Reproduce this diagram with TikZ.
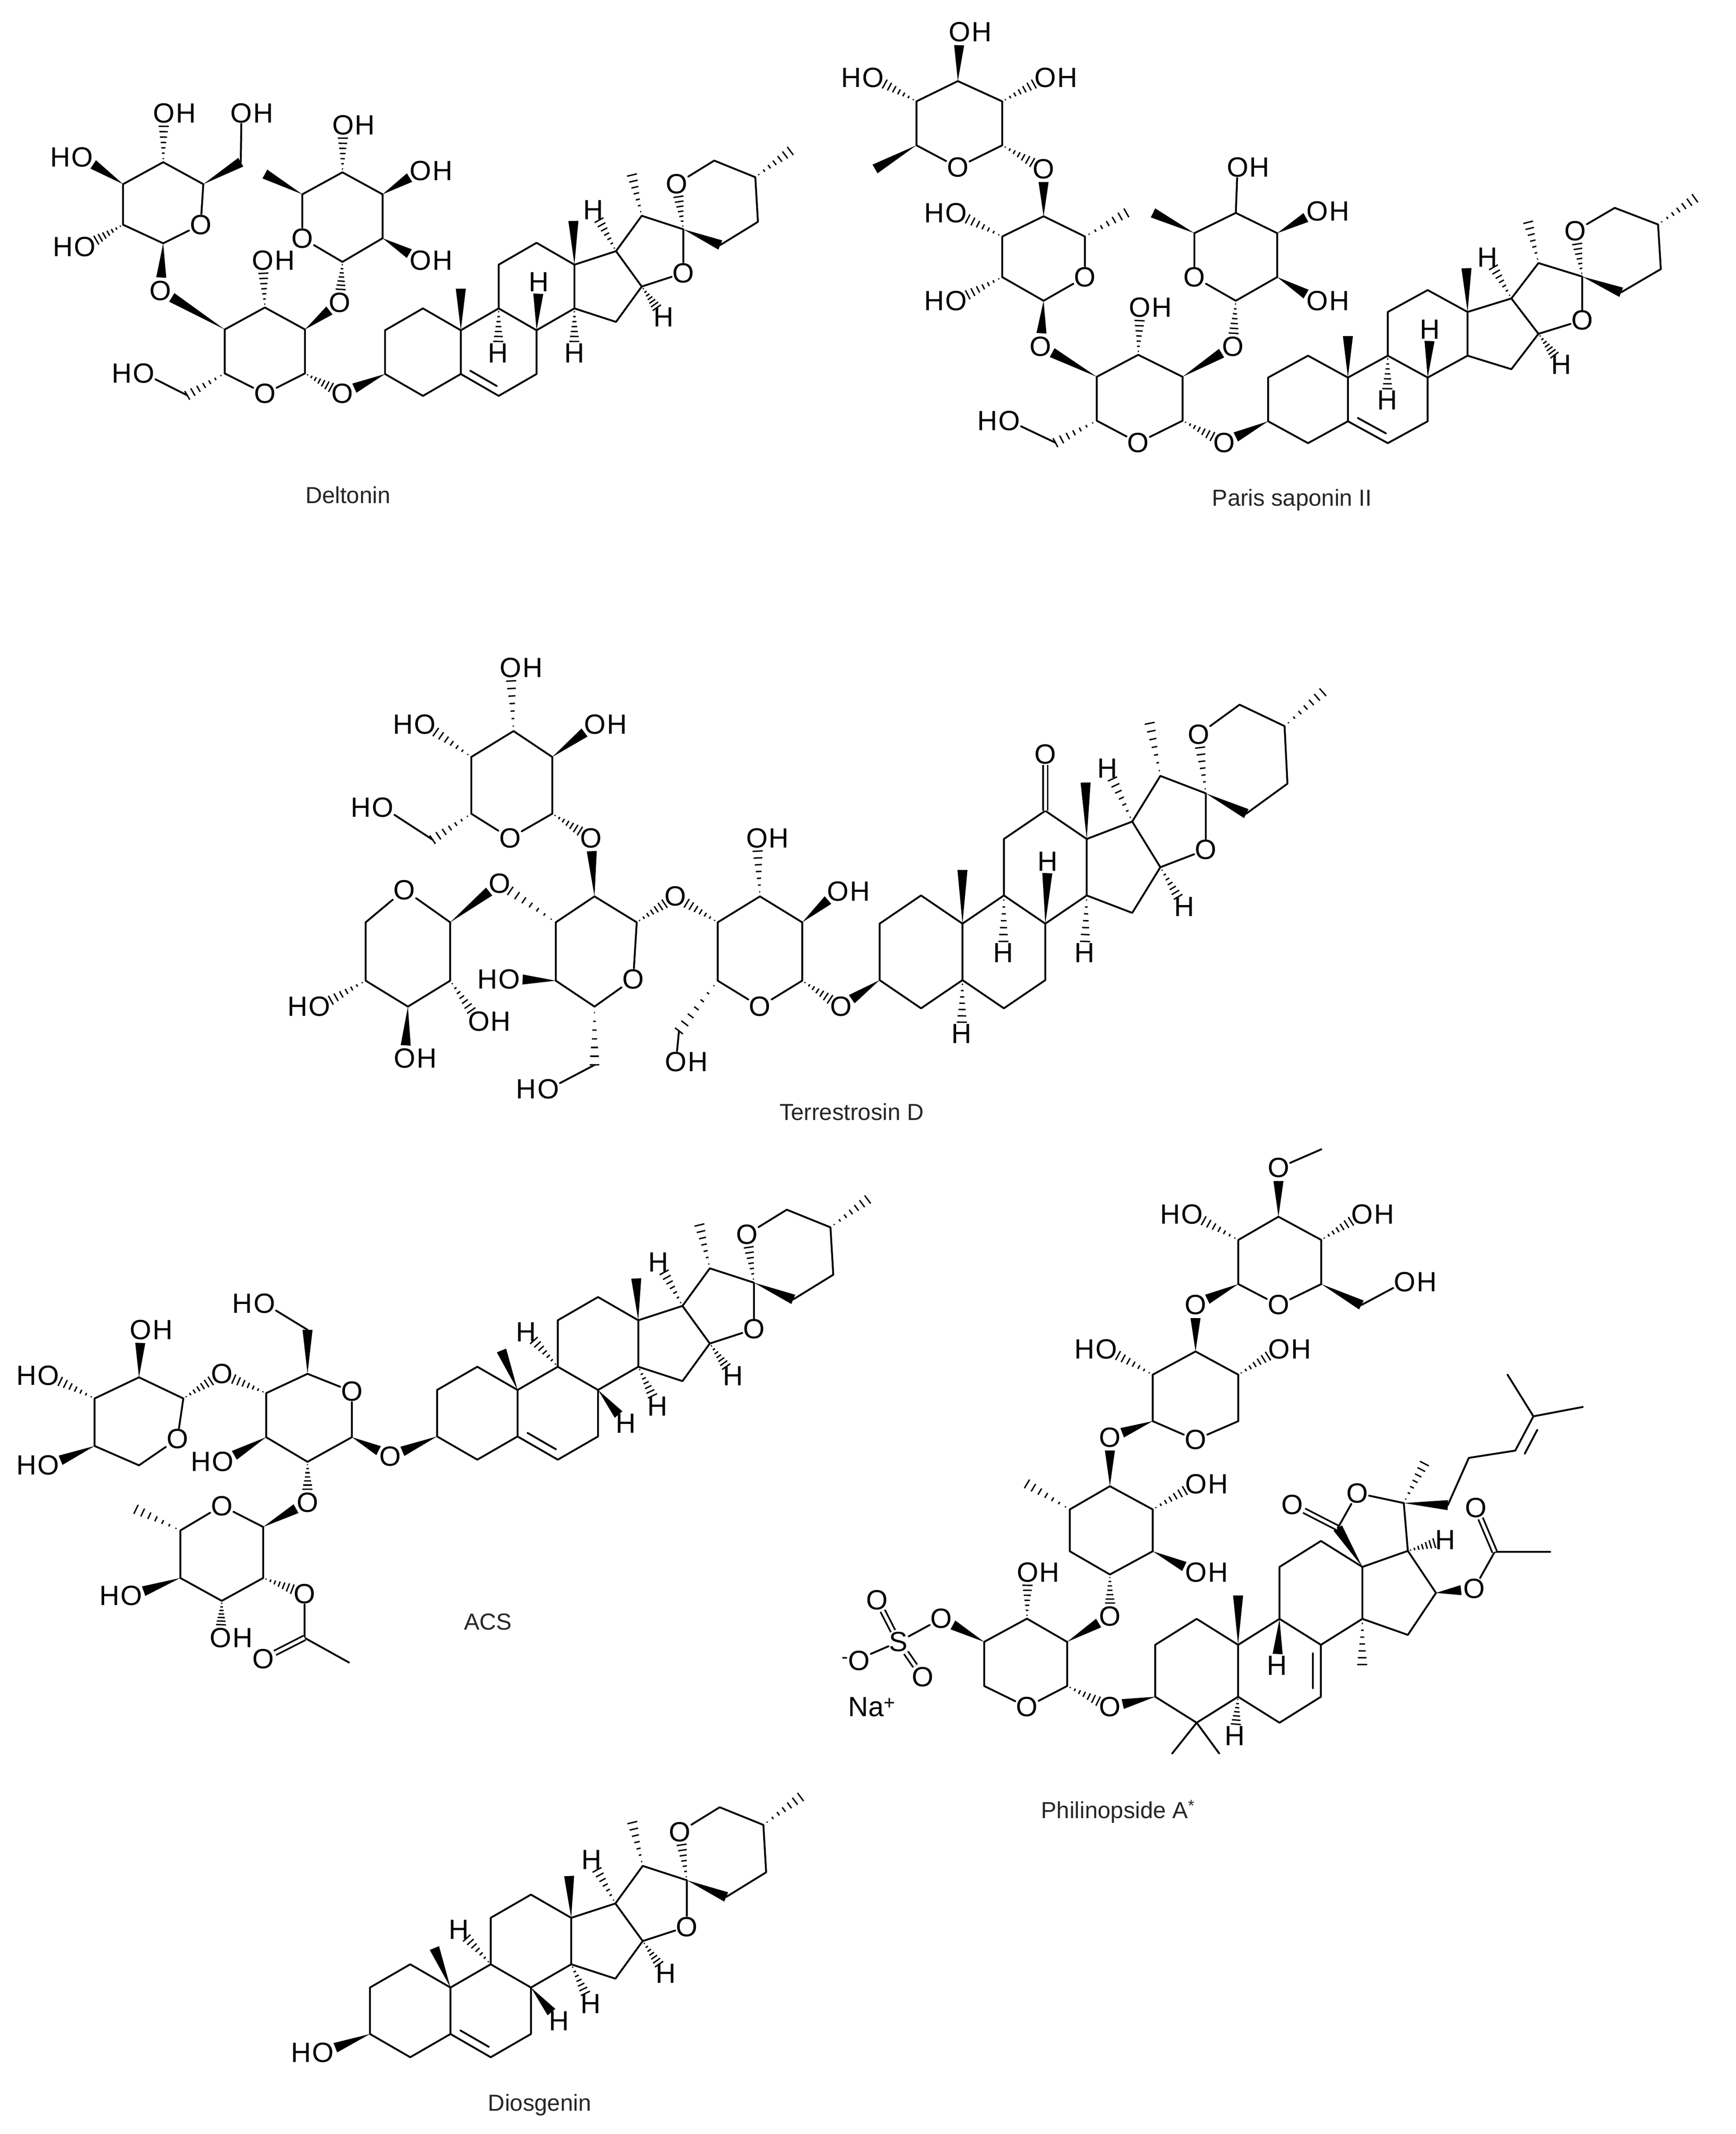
\documentclass[tikz,border=0pt]{standalone}
\usepackage{fontspec}
\setmainfont{Liberation Sans}
\usetikzlibrary{calc}
\tikzset{
 bond/.style={line width=2.4pt,line cap=round,line join=round},
 hashl/.style={line width=1.8pt},
 dbl/.style={line width=2.2pt,double,double distance=4pt},
 lab/.style={font=\fontsize{36}{40}\selectfont,inner sep=1pt},
 ttl/.style={font=\fontsize{30}{36}\selectfont,text=black!85},
}
\newcommand\lO[2]{\node[lab] (#1) at (#2) {O};}
\newcommand\lH[2]{\node[lab] (#1) at (#2) {H};}
\newcommand\lOH[2]{\node[lab,xshift=-13pt] (#1) at (#2) {O};\node[lab,inner sep=0pt,anchor=base west] (#1h) at (#1.base east) {H};}
\newcommand\lHO[2]{\node[lab,xshift=13pt] (#1) at (#2) {O};\node[lab,inner sep=0pt,anchor=base east] (#1h) at (#1.base west) {H};}
\newcommand\wdg[3][0pt]{\coordinate (wq) at ($(#3)!#1!(#2)$);\fill ($(wq)!6.5pt!90:(#2)$) -- (#2) -- ($(wq)!6.5pt!-90:(#2)$) -- cycle;}
\newcommand\hsh[3][0pt]{\coordinate (hq) at ($(#3)!#1!(#2)$);\foreach \t/\w in {0.1/0.7pt,0.25/1.7pt,0.4/2.7pt,0.55/3.6pt,0.7/4.6pt,0.85/5.6pt,1/6.5pt}{\draw[hashl] ($(#2)!\t!(hq)!\w!90:(#2)$) -- ($(#2)!\t!(hq)!\w!-90:(#2)$);}}
\newcommand\skel[1]{%
\coordinate (#1c1) at (0,1);\coordinate (#1c2) at (-0.866,0.5);\coordinate (#1c3) at (-0.866,-0.5);\coordinate (#1c4) at (0,-1);\coordinate (#1c5) at (0.866,-0.5);\coordinate (#1c10) at (0.866,0.5);
\coordinate (#1c6) at (1.732,-1);\coordinate (#1c7) at (2.598,-0.5);\coordinate (#1c8) at (2.598,0.5);\coordinate (#1c9) at (1.732,1);
\coordinate (#1c11) at (1.732,2);\coordinate (#1c12) at (2.598,2.5);\coordinate (#1c13) at (3.464,2);\coordinate (#1c14) at (3.464,1);
\coordinate (#1c15) at (4.415,0.691);\coordinate (#1c16) at (5.003,1.5);\coordinate (#1c17) at (4.415,2.309);
\draw[bond] (#1c1)--(#1c2)--(#1c3)--(#1c4)--(#1c5)--(#1c10)--cycle;
\draw[bond] (#1c5)--(#1c6)--(#1c7)--(#1c8)--(#1c9)--(#1c10);
\draw[bond] (#1c9)--(#1c11)--(#1c12)--(#1c13)--(#1c14)--(#1c8);
\draw[bond] (#1c14)--(#1c15)--(#1c16)--(#1c17)--(#1c13);}
\newcommand\dblfive{\draw[bond,shorten <=3pt,shorten >=3pt] (1.039,-0.4)--(1.732,-0.8);}
\newcommand\spiro[1]{%
\coordinate (#1c20) at (5.003,3.118);\coordinate (#1c22) at (5.954,2.809);
\lO{#1oe}{5.954,1.809}\lO{#1of}{5.8,3.85}
\coordinate (#1c26) at (6.66,4.38);\coordinate (#1c25) at (7.6,4.0);\coordinate (#1c24) at (7.66,2.98);\coordinate (#1c23) at (6.8,2.45);
\coordinate (#1c27) at (8.4,4.6);\coordinate (#1c21) at (4.78,4.05);
\draw[bond] (#1c17)--(#1c20)--(#1c22)--(#1oe)--(#1c16);
\hsh[17pt]{#1c22}{#1of}
\draw[bond] (#1of)--(#1c26)--(#1c25)--(#1c24)--(#1c23);
\wdg{#1c22}{#1c23}\hsh{#1c25}{#1c27}\hsh{#1c20}{#1c21}
\lH{#1h17}{3.9,3.25}\hsh[15pt]{#1c17}{#1h17}
\lH{#1h16}{5.5,0.8}\hsh[15pt]{#1c16}{#1h16}}
\newcommand\typeD[1]{%
\coordinate (#1c19) at (0.52,1.35);\wdg{#1c10}{#1c19}
\coordinate (#1c18) at (3.42,2.9);\wdg{#1c13}{#1c18}
\lH{#1h9}{1.05,1.75}\hsh[15pt]{#1c9}{#1h9}
\lH{#1h8}{3.2,-0.22}\wdg[15pt]{#1c8}{#1h8}
\lH{#1h14}{3.88,0.15}\hsh[15pt]{#1c14}{#1h14}}
\newcommand\typeP[1]{%
\coordinate (#1c19) at (0.866,1.45);\wdg{#1c10}{#1c19}
\coordinate (#1c18) at (3.44,3.0);\wdg{#1c13}{#1c18}
\lH{#1h9}{1.72,-0.02}\hsh[15pt]{#1c9}{#1h9}
\lH{#1h8}{2.65,1.6}\wdg[15pt]{#1c8}{#1h8}}
\begin{document}
\begin{tikzpicture}[x=0.0622cm,y=-0.0622cm]
\useasboundingbox (0,0) rectangle (1270.1,1561.7);
%%%%%%%%%%%%%%%% Deltonin
\begin{scope}[x={(0.02436cm,0)},y={(0,-0.01538cm)}]
\coordinate (dg1) at (570,1105);\coordinate (dg2) at (570,975);\coordinate (dg3) at (495,910);\coordinate (dg4) at (420,975);\coordinate (dg5) at (420,1105);\lO{dgO}{495,1165}
\draw[bond] (dg1)--(dg2)--(dg3)--(dg4)--(dg5)--(dgO)--(dg1);
\lO{dO1}{640,1165}\hsh[17pt]{dg1}{dO1}
\coordinate (dg6) at (350,1170);\hsh{dg5}{dg6}\lHO{dHO6}{250,1105}\draw[bond] (dg6)--(dHO6);
\lOH{dOH3}{510,770}\hsh[17pt]{dg3}{dOH3}
\lO{dO2}{635,895}\wdg[17pt]{dg2}{dO2}
\lO{dO4}{300,860}\wdg[17pt]{dg4}{dO4}
\coordinate (dr5) at (565,575);\coordinate (dr4) at (640,510);\coordinate (dr3) at (715,575);\coordinate (dr2) at (715,705);\coordinate (dr1) at (640,775);\lO{drO}{565,705}
\draw[bond] (dr5)--(dr4)--(dr3)--(dr2)--(dr1)--(drO)--(dr5);
\hsh[17pt]{dr1}{dO2}
\coordinate (dr6) at (495,515);\wdg{dr5}{dr6}
\lOH{drOH4}{660,370}\hsh[17pt]{dr4}{drOH4}
\lOH{drOH3}{805,505}\wdg[17pt]{dr3}{drOH3}
\lOH{drOH2}{805,770}\wdg[17pt]{dr2}{drOH2}
\coordinate (dt3) at (230,545);\coordinate (dt4) at (305,480);\coordinate (dt5) at (380,545);\lO{dtO}{375,665}\coordinate (dt1) at (305,720);\coordinate (dt2) at (230,665);
\draw[bond] (dt3)--(dt4)--(dt5)--(dtO)--(dt1)--(dt2)--(dt3);
\wdg[17pt]{dt1}{dO4}
\lHO{dtHO2}{140,730}\hsh[17pt]{dt2}{dtHO2}
\lHO{dtHO3}{135,465}\wdg[17pt]{dt3}{dtHO3}
\lOH{dtOH4}{325,335}\hsh[17pt]{dt4}{dtOH4}
\coordinate (dt6) at (450,480);\wdg{dt5}{dt6}\lOH{dtOH6}{470,335}\draw[bond] (dt6)--(dtOH6);
\end{scope}
\begin{scope}[shift={(309.5,257.7)},x={(1.9904cm,0)},y={(0,1.9904cm)}]
\skel{d}\dblfive\spiro{d}\typeP{d}
\lH{dh14}{3.46,-0.02}\hsh[15pt]{dc14}{dh14}
\wdg[17pt]{dc3}{dO1}
\end{scope}
\node[ttl] (tdel) at (254.6,362.3) {Deltonin};
%%%%%%%%%%%%%%%% Paris saponin II
\begin{scope}[shift={(594.9,0)},x={(0.02692cm,0)},y={(0,-0.01538cm)}]
\coordinate (pg4) at (480,1115);\coordinate (pg3) at (550,1050);\coordinate (pg2) at (625,1115);\coordinate (pg1) at (625,1245);\lO{pgO}{550,1310}\coordinate (pg5) at (480,1245);
\draw[bond] (pg4)--(pg3)--(pg2)--(pg1)--(pgO)--(pg5)--(pg4);
\lO{pO1}{695,1310}\hsh[17pt]{pg1}{pO1}
\coordinate (pg6) at (410,1310);\hsh{pg5}{pg6}\lHO{pHO6}{315,1245}\draw[bond] (pg6)--(pHO6);
\lOH{pOH3}{570,910}\hsh[17pt]{pg3}{pOH3}
\lO{pO2}{710,1025}\wdg[17pt]{pg2}{pO2}
\lO{pO4}{385,1025}\wdg[17pt]{pg4}{pO4}
\coordinate (pr5) at (645,690);\coordinate (pr4) at (715,630);\coordinate (pr3) at (785,690);\coordinate (pr2) at (785,820);\coordinate (pr1) at (715,890);\lO{prO}{645,820}
\draw[bond] (pr5)--(pr4)--(pr3)--(pr2)--(pr1)--(prO)--(pr5);
\hsh[17pt]{pr1}{pO2}
\coordinate (pr6) at (575,630);\wdg{pr5}{pr6}
\lOH{prOH4}{735,495}\draw[bond] (pr4)--(prOH4);
\lOH{prOH3}{870,625}\wdg[17pt]{pr3}{prOH3}
\lOH{prOH2}{870,890}\wdg[17pt]{pr2}{prOH2}
\coordinate (pm4) at (390,640);\coordinate (pm5) at (460,700);\lO{pmO}{460,820}\coordinate (pm1) at (390,890);\coordinate (pm2) at (320,820);\coordinate (pm3) at (320,700);
\draw[bond] (pm4)--(pm5)--(pmO)--(pm1)--(pm2)--(pm3)--(pm4);
\wdg[17pt]{pm1}{pO4}
\lHO{pmHO2}{225,890}\hsh[17pt]{pm2}{pmHO2}
\lHO{pmHO3}{225,630}\hsh[17pt]{pm3}{pmHO3}
\lO{pO4b}{390,500}\wdg[17pt]{pm4}{pO4b}
\coordinate (pm6) at (530,630);\hsh{pm5}{pm6}
\coordinate (pa4) at (175,300);\coordinate (pa3) at (245,240);\coordinate (pa2) at (320,300);\coordinate (pa1) at (320,430);\lO{paO}{245,495}\coordinate (pa5) at (175,430);
\draw[bond] (pa4)--(pa3)--(pa2)--(pa1)--(paO)--(pa5)--(pa4);
\hsh[17pt]{pa1}{pO4b}
\coordinate (pa6) at (105,500);\wdg{pa5}{pa6}
\lOH{paOH2}{410,230}\hsh[17pt]{pa2}{paOH2}
\lOH{paOH3}{265,95}\wdg[17pt]{pa3}{paOH3}
\lHO{paHO4}{85,230}\hsh[17pt]{pa4}{paHO4}
\end{scope}
\begin{scope}[shift={(957.2,292.3)},x={(2.0961cm,0)},y={(0,1.9904cm)}]
\skel{p}\dblfive\spiro{p}\typeP{p}
\wdg[17pt]{pc3}{pO1}
\end{scope}
\node[ttl] (tpar) at (945.5,366) {Paris saponin II};
%%%%%%%%%%%%%%%% Terrestrosin D
\begin{scope}[shift={(192.9,466.2)},x={(0.03205cm,0)},y={(0,-0.01475cm)}]
\coordinate (ti4) at (645,880);\coordinate (ti3) at (705,800);\coordinate (ti2) at (765,880);\coordinate (ti1) at (765,1060);\lO{tiO}{705,1140}\coordinate (ti5) at (645,1060);
\draw[bond] (ti4)--(ti3)--(ti2)--(ti1)--(tiO)--(ti5)--(ti4);
\lO{tO1}{820,1140}\hsh[17pt]{ti1}{tO1}
\coordinate (ti6) at (590,1215);\hsh{ti5}{ti6}\lOH{tiOH6}{600,1310}\draw[bond] (ti6)--(tiOH6);
\lOH{tiOH3}{715,620}\hsh[17pt]{ti3}{tiOH3}
\lOH{tiOH2}{830,785}\wdg[17pt]{ti2}{tiOH2}
\lO{tO4}{585,800}\hsh[17pt]{ti4}{tO4}
\coordinate (tmA) at (415,880);\coordinate (tmB) at (470,800);\coordinate (tmC) at (530,880);\lO{tmO}{525,1055}\coordinate (tmE) at (470,1140);\coordinate (tmF) at (415,1060);
\draw[bond] (tmA)--(tmB)--(tmC)--(tmO)--(tmE)--(tmF)--(tmA);
\hsh[17pt]{tmC}{tO4}
\lO{tO2}{465,620}\wdg[17pt]{tmB}{tO2}
\lO{tO3}{335,760}\hsh[17pt]{tmA}{tO3}
\lHO{tmHO4}{335,1055}\wdg[17pt]{tmF}{tmHO4}
\coordinate (tmG) at (470,1320);\hsh{tmE}{tmG}\lHO{tmHO6}{390,1395}\draw[bond] (tmG)--(tmHO6);
\coordinate (tu2) at (295,370);\coordinate (tu3) at (355,290);\coordinate (tu4) at (410,370);\coordinate (tu1) at (410,545);\lO{tuO}{350,620}\coordinate (tu5) at (295,545);
\draw[bond] (tu2)--(tu3)--(tu4)--(tu1)--(tuO)--(tu5)--(tu2);
\hsh[17pt]{tu1}{tO2}
\lHO{tuHO2}{215,270}\hsh[17pt]{tu2}{tuHO2}
\lOH{tuOH3}{365,95}\hsh[17pt]{tu3}{tuOH3}
\lOH{tuOH4}{485,270}\wdg[17pt]{tu4}{tuOH4}
\coordinate (tu6) at (240,625);\hsh{tu5}{tu6}\lHO{tuHO6}{155,525}\draw[bond] (tu6)--(tuHO6);
\lO{txO}{200,780}\coordinate (tx1) at (265,880);\coordinate (tx2) at (265,1060);\coordinate (tx3) at (205,1140);\coordinate (tx4) at (145,1060);\coordinate (tx5) at (145,880);
\draw[bond] (tx1)--(tx2)--(tx3)--(tx4)--(tx5)--(txO)--(tx1);
\wdg[17pt]{tx1}{tO3}
\lOH{txOH2}{320,1185}\hsh[17pt]{tx2}{txOH2}
\lOH{txOH3}{215,1300}\wdg[17pt]{tx3}{txOH3}
\lHO{txHO4}{65,1140}\hsh[17pt]{tx4}{txHO4}
\end{scope}
\begin{scope}[shift={(674,696.6)},x={(2.177cm,0)},y={(0,2.5689cm)}]
\skel{t}\spiro{t}\typeP{t}
\lH{th14}{3.42,-0.02}\hsh[15pt]{tc14}{th14}
\lH{th5}{0.85,-1.45}\hsh[15pt]{tc5}{th5}
\lO{to12}{2.598,3.5}\draw[dbl] (tc12)--(to12);
\wdg[17pt]{tc3}{tO1}
\end{scope}
\node[ttl] (tter) at (623.2,813.6) {Terrestrosin D};
%%%%%%%%%%%%%%%% ACS
\begin{scope}[shift={(0,852.1)},x={(0.02692cm,0)},y={(0,-0.01602cm)}]
\coordinate (ag5) at (520,595);\lO{agO}{595,645}\coordinate (ag1) at (595,775);\coordinate (ag2) at (520,845);\coordinate (ag3) at (450,775);\coordinate (ag4) at (450,650);
\draw[bond] (ag5)--(agO)--(ag1)--(ag2)--(ag3)--(ag4)--(ag5);
\lO{aO1}{660,830}\wdg[17pt]{ag1}{aO1}
\coordinate (ag6) at (520,470);\wdg{ag5}{ag6}\lHO{aHO6}{430,395}\draw[bond] (ag6)--(aHO6);
\lO{aO4}{375,595}\hsh[17pt]{ag4}{aO4}
\lHO{agHO3}{360,845}\wdg[17pt]{ag3}{agHO3}
\lO{aO2}{520,960}\hsh[17pt]{ag2}{aO2}
\coordinate (ax1) at (310,665);\lO{axO}{300,780}\coordinate (ax5) at (235,855);\coordinate (ax4) at (160,800);\coordinate (ax3) at (160,665);\coordinate (ax2) at (235,605);
\draw[bond] (ax1)--(axO)--(ax5)--(ax4)--(ax3)--(ax2)--(ax1);
\hsh[17pt]{ax1}{aO4}
\lOH{axOH2}{255,470}\wdg[17pt]{ax2}{axOH2}
\lHO{axHO3}{65,600}\hsh[17pt]{ax3}{axHO3}
\lHO{axHO4}{65,855}\wdg[17pt]{ax4}{axHO4}
\coordinate (ar1) at (445,1030);\lO{arO}{375,970}\coordinate (ar5) at (305,1040);\coordinate (ar4) at (305,1175);\coordinate (ar3) at (375,1240);\coordinate (ar2) at (445,1175);
\draw[bond] (ar1)--(arO)--(ar5)--(ar4)--(ar3)--(ar2)--(ar1);
\wdg[17pt]{ar1}{aO2}
\coordinate (ar6) at (230,980);\hsh{ar5}{ar6}
\lHO{arHO4}{205,1225}\wdg[17pt]{ar4}{arHO4}
\lOH{arOH3}{390,1345}\hsh[17pt]{ar3}{arOH3}
\lO{arO2}{515,1220}\hsh[17pt]{ar2}{arO2}
\coordinate (ac7) at (515,1345);\coordinate (acm) at (590,1415);\lO{arO8}{445,1405}
\draw[bond] (arO2)--(ac7)--(acm);\draw[dbl] (ac7)--(arO8);
\end{scope}
\begin{scope}[shift={(349.3,1034.2)},x={(2.1148cm,0)},y={(0,2.1148cm)}]
\skel{a}\dblfive\spiro{a}\typeD{a}
\wdg[17pt]{ac3}{aO1}
\end{scope}
\node[ttl] (tacs) at (357.1,1187) {ACS};
%%%%%%%%%%%%%%%% Philinopside A
\begin{scope}[shift={(594.9,836)},x={(0.02436cm,0)},y={(0,-0.02115cm)}]
\coordinate (fx1) at (475,1170);\lO{fxO}{400,1215}\coordinate (fx5) at (320,1170);\coordinate (fx4) at (320,1075);\coordinate (fx3) at (400,1025);\coordinate (fx2) at (475,1075);
\draw[bond] (fx1)--(fxO)--(fx5)--(fx4)--(fx3)--(fx2)--(fx1);
\lO{fO1}{555,1215}\hsh[17pt]{fx1}{fO1}
\lO{fO2}{555,1020}\wdg[17pt]{fx2}{fO2}
\lOH{fxOH3}{420,925}\hsh[17pt]{fx3}{fxOH3}
\lO{fO4}{240,1025}\wdg[17pt]{fx4}{fO4}
\node[lab] (fS) at (160,1075) {S};
\lO{fSO1}{120,985}\lO{fSO2}{205,1150}
\node[lab] (fSO3) at (80,1115) {\textsuperscript{-}O};
\draw[bond] (fO4)--(fS)--(fSO3);\draw[dbl] (fS)--(fSO1);\draw[dbl] (fS)--(fSO2);
\node[lab] (fNa) at (110,1215) {Na\textsuperscript{+}};
\coordinate (fq1) at (555,930);\coordinate (fq2) at (635,880);\coordinate (fq3) at (635,790);\coordinate (fq4) at (555,740);\coordinate (fq5) at (480,790);\coordinate (fq6) at (480,880);
\draw[bond] (fq1)--(fq2)--(fq3)--(fq4)--(fq5)--(fq6)--cycle;
\hsh[17pt]{fq1}{fO2}
\lOH{fqOH2}{735,925}\wdg[17pt]{fq2}{fqOH2}
\lOH{fqOH3}{735,735}\hsh[17pt]{fq3}{fqOH3}
\lO{fO5}{555,635}\wdg[17pt]{fq4}{fO5}
\coordinate (fq7) at (400,735);\hsh{fq5}{fq7}
\coordinate (fy1) at (635,600);\lO{fyO}{715,640}\coordinate (fy5) at (795,600);\coordinate (fy4) at (795,500);\coordinate (fy3) at (715,450);\coordinate (fy2) at (635,500);
\draw[bond] (fy1)--(fyO)--(fy5)--(fy4)--(fy3)--(fy2)--(fy1);
\wdg[17pt]{fy1}{fO5}
\lHO{fyHO2}{530,445}\hsh[17pt]{fy2}{fyHO2}
\lO{fO6}{715,350}\wdg[17pt]{fy3}{fO6}
\lOH{fyOH4}{890,445}\hsh[17pt]{fy4}{fyOH4}
\coordinate (fz1) at (795,305);\lO{fzO}{870,350}\coordinate (fz5) at (950,305);\coordinate (fz4) at (950,210);\coordinate (fz3) at (870,160);\coordinate (fz2) at (795,210);
\draw[bond] (fz1)--(fzO)--(fz5)--(fz4)--(fz3)--(fz2)--(fz1);
\wdg[17pt]{fz1}{fO6}
\lHO{fzHO2}{690,155}\hsh[17pt]{fz2}{fzHO2}
\lO{fzO3}{870,55}\wdg[17pt]{fz3}{fzO3}\coordinate (fzMe) at (950,15);\draw[bond] (fzO3)--(fzMe);
\lOH{fzOH4}{1045,155}\hsh[17pt]{fz4}{fzOH4}
\coordinate (fz6) at (1025,350);\wdg{fz5}{fz6}\lOH{fzOH6}{1125,300}\draw[bond] (fz6)--(fzOH6);
\end{scope}
\begin{scope}[shift={(875.7,1222.7)},x={(2.177cm,0)},y={(0,2.3636cm)}]
\skel{f}
\draw[bond,shorten <=3pt,shorten >=3pt] (2.43,-0.38)--(2.43,0.38);
\coordinate (fm4a) at (-0.51,-1.59);\coordinate (fm4b) at (0.47,-1.59);
\draw[bond] (fm4a)--(fc4)--(fm4b);
\lH{fh5}{0.8,-1.25}\hsh[15pt]{fc5}{fh5}
\coordinate (fc19) at (0.866,1.45);\wdg{fc10}{fc19}
\lH{fh9}{1.68,0.1}\wdg[15pt]{fc9}{fh9}
\coordinate (fc30) at (3.46,0.12);\hsh{fc14}{fc30}
\coordinate (fc18) at (2.95,2.75);\wdg{fc13}{fc18}
\lO{fo18}{2.0,3.2}\draw[dbl] (fc18)--(fo18);
\lO{fol}{3.36,3.42}\coordinate (fc20) at (4.33,3.23);
\draw[bond] (fc18)--(fol)--(fc20)--(fc17);
\lH{fh17}{5.2,2.52}\hsh[15pt]{fc17}{fh17}
\coordinate (fc21) at (4.76,3.99);\hsh{fc20}{fc21}
\coordinate (fs1) at (5.25,3.19);\coordinate (fs2) at (5.69,4.1);\coordinate (fs3) at (6.66,4.24);\coordinate (fs4) at (7.04,4.9);\coordinate (fs5) at (6.5,5.7);\coordinate (fs6) at (8.07,5.08);
\wdg{fc20}{fs1}
\draw[bond] (fs1)--(fs2)--(fs3)--(fs4)--(fs5);\draw[bond] (fs4)--(fs6);
\draw[bond,shorten <=4pt,shorten >=4pt] (6.83,4.13)--(7.15,4.69);
\lO{fo16}{5.8,1.58}\wdg[17pt]{fc16}{fo16}
\coordinate (fac) at (6.23,2.29);\coordinate (fam) at (7.39,2.29);\lO{fo16b}{5.84,3.14}
\draw[bond] (fo16)--(fac)--(fam);\draw[dbl] (fac)--(fo16b);
\wdg[17pt]{fc3}{fO1}
\end{scope}
\node[ttl] (tphi) at (818.1,1325.7) {Philinopside A\textsuperscript{*}};
%%%%%%%%%%%%%%%% Diosgenin
\begin{scope}[shift={(300.2,1471.5)},x={(2.1148cm,0)},y={(0,2.1148cm)}]
\skel{o}\dblfive\spiro{o}\typeD{o}
\lHO{oHO}{-2.09,-0.9}\wdg[17pt]{oc3}{oHO}
\end{scope}
\node[ttl] (tdio) at (394.9,1540.4) {Diosgenin};
\end{tikzpicture}
\end{document}
